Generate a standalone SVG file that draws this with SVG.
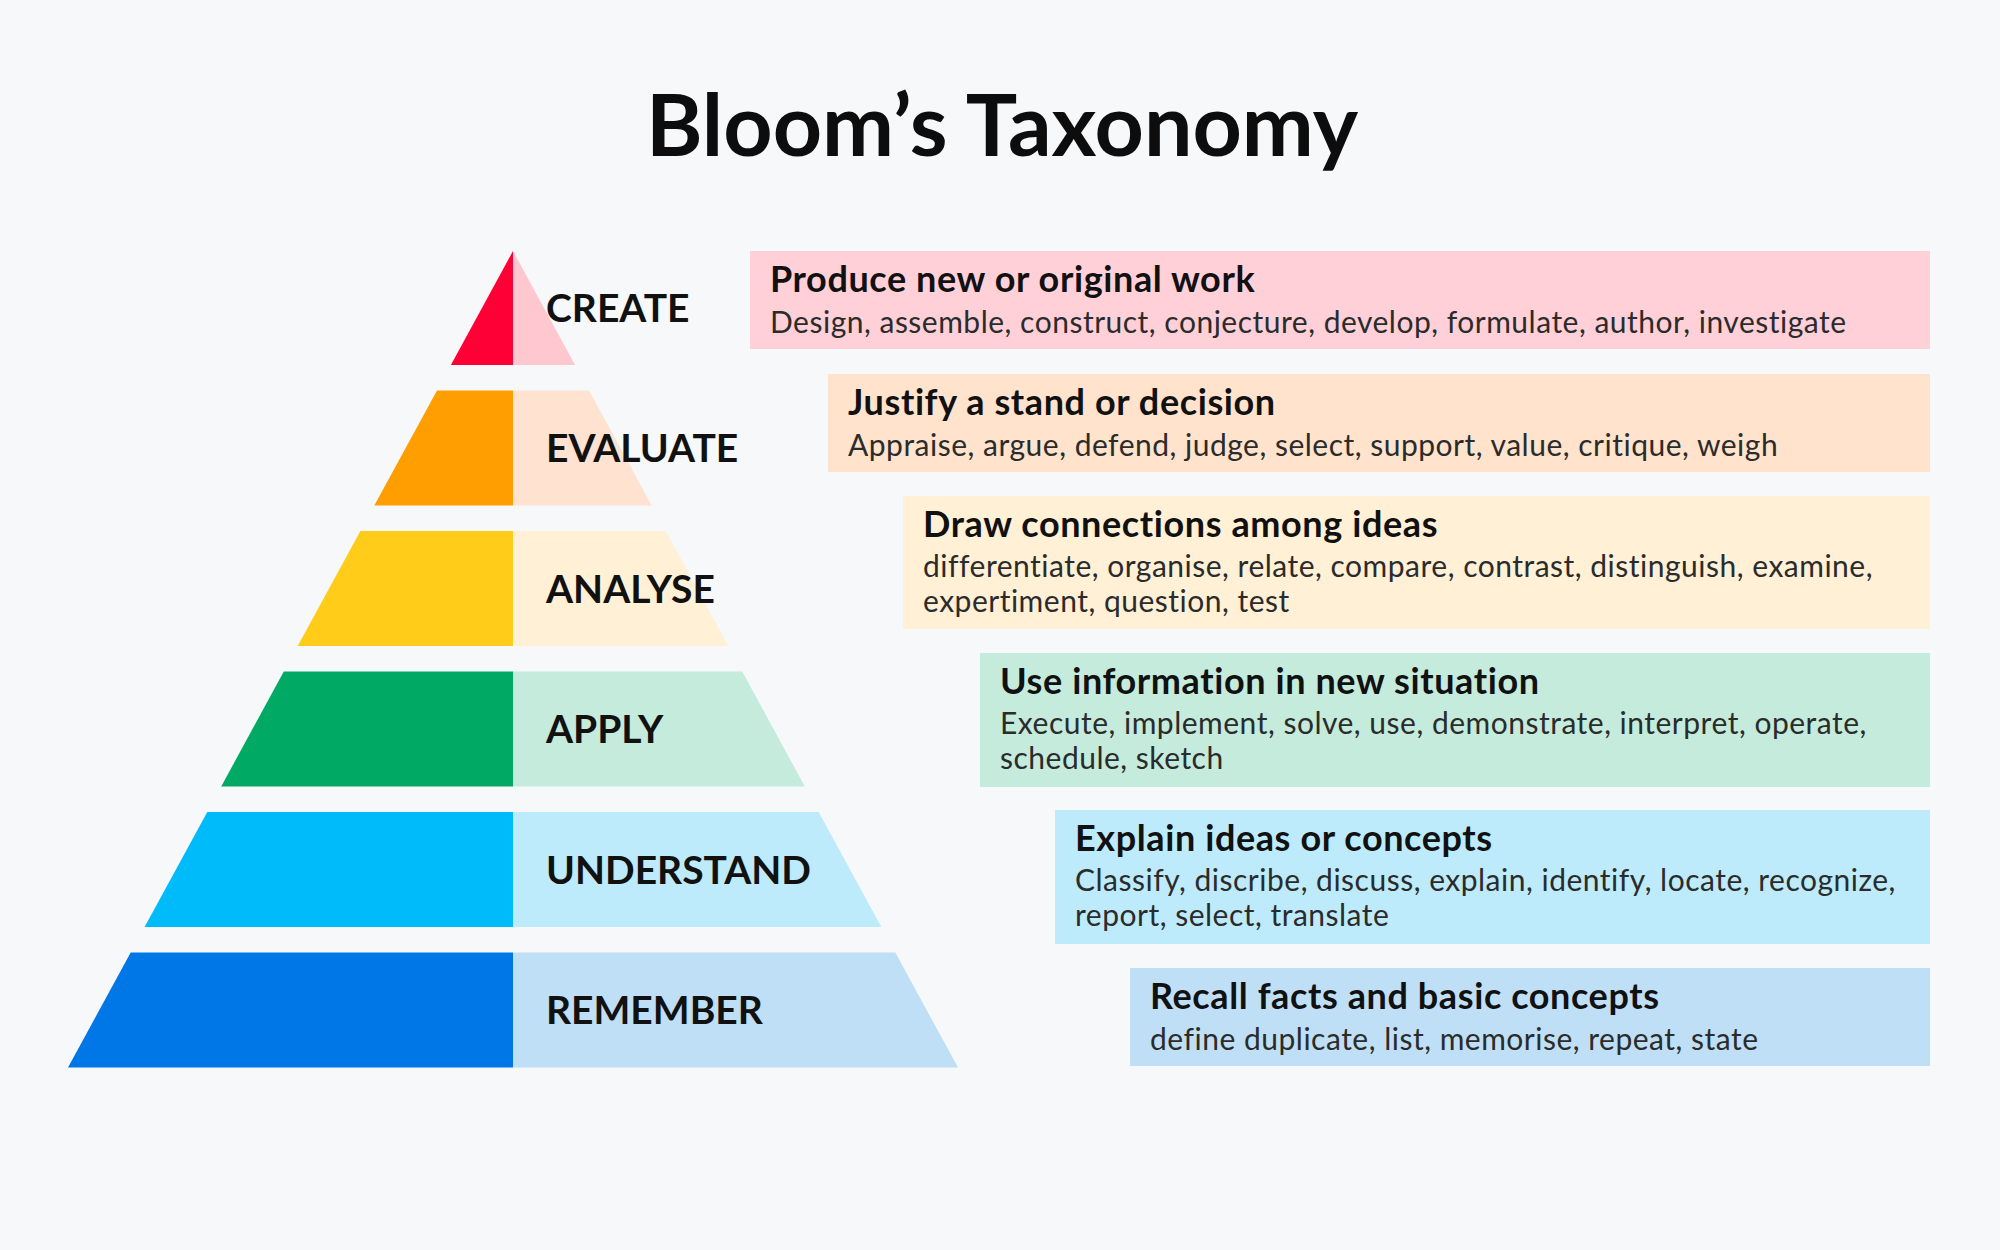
<svg xmlns="http://www.w3.org/2000/svg" width="2000" height="1250" viewBox="0 0 2000 1250">
  <style>
    .title { font-family: Lato, "Open Sans", "Liberation Sans", sans-serif; font-weight: 700; font-size: 86px; fill: #0d0d0d; }
    .lvl { font-family: Lato, "Liberation Sans", sans-serif; font-weight: 700; font-size: 39px; fill: #111111; }
    .bh { font-family: Lato, "Liberation Sans", sans-serif; font-weight: 700; font-size: 36px; letter-spacing: 0.6px; fill: #111111; }
    .bt { font-family: Lato, "Liberation Sans", sans-serif; font-weight: 400; font-size: 30px; letter-spacing: 0.5px; fill: #2b2b2b; }
  </style>
  <rect x="0" y="0" width="2000" height="1250" fill="#F7F8FA"/>
  <text id="title" class="title" x="1002" y="156" text-anchor="middle">Bloom’s Taxonomy</text>

  <g id="create">
    <polygon points="513,251 513,365 450.9,365" fill="#FF0036"/>
    <polygon points="513,251 575.1,365 513,365" fill="#FFC8D0"/>
    <text class="lvl" x="546" y="322">CREATE</text>
  </g>
  <g id="evaluate">
    <polygon points="437,390.5 513,390.5 513,505.5 374.3,505.5" fill="#FF9E00"/>
    <polygon points="513,390.5 589,390.5 651.7,505.5 513,505.5" fill="#FFE2CF"/>
    <text class="lvl" x="546" y="462">EVALUATE</text>
  </g>
  <g id="analyse">
    <polygon points="360.4,531 513,531 513,646 297.7,646" fill="#FFCC1A"/>
    <polygon points="513,531 665.6,531 728.3,646 513,646" fill="#FFF0D6"/>
    <text class="lvl" x="546" y="602.5">ANALYSE</text>
  </g>
  <g id="apply">
    <polygon points="283.8,671.5 513,671.5 513,786.5 221.2,786.5" fill="#00AA64"/>
    <polygon points="513,671.5 742.2,671.5 804.8,786.5 513,786.5" fill="#C4EBDC"/>
    <text class="lvl" x="546" y="743">APPLY</text>
  </g>
  <g id="understand">
    <polygon points="207.3,812 513,812 513,927 144.6,927" fill="#00BBF9"/>
    <polygon points="513,812 818.7,812 881.4,927 513,927" fill="#BDEBFB"/>
    <text class="lvl" x="546" y="883.5">UNDERSTAND</text>
  </g>
  <g id="remember">
    <polygon points="130.7,952.5 513,952.5 513,1067.5 68,1067.5" fill="#0077E6"/>
    <polygon points="513,952.5 895.3,952.5 958,1067.5 513,1067.5" fill="#BFDFF6"/>
    <text class="lvl" x="546" y="1024">REMEMBER</text>
  </g>

  <g id="box-create">
    <rect x="750" y="251" width="1180" height="98" fill="#FFD0D7"/>
    <text class="bh" x="770" y="292">Produce new or original work</text>
    <text class="bt" x="770" y="333">Design, assemble, construct, conjecture, develop, formulate, author, investigate</text>
  </g>
  <g id="box-evaluate">
    <rect x="828" y="374" width="1102" height="98" fill="#FFE3CD"/>
    <text class="bh" x="848" y="415">Justify a stand or decision</text>
    <text class="bt" x="848" y="456">Appraise, argue, defend, judge, select, support, value, critique, weigh</text>
  </g>
  <g id="box-analyse">
    <rect x="903" y="496" width="1027" height="133" fill="#FFF0D6"/>
    <text class="bh" x="923" y="537">Draw connections among ideas</text>
    <text class="bt" x="923" y="577">differentiate, organise, relate, compare, contrast, distinguish, examine,</text>
    <text class="bt" x="923" y="612">expertiment, question, test</text>
  </g>
  <g id="box-apply">
    <rect x="980" y="653" width="950" height="134" fill="#C4EBDC"/>
    <text class="bh" x="1000" y="694">Use information in new situation</text>
    <text class="bt" x="1000" y="734">Execute, implement, solve, use, demonstrate, interpret, operate,</text>
    <text class="bt" x="1000" y="769">schedule, sketch</text>
  </g>
  <g id="box-understand">
    <rect x="1055" y="810" width="875" height="134" fill="#BDEBFB"/>
    <text class="bh" x="1075" y="851">Explain ideas or concepts</text>
    <text class="bt" x="1075" y="891">Classify, discribe, discuss, explain, identify, locate, recognize,</text>
    <text class="bt" x="1075" y="926">report, select, translate</text>
  </g>
  <g id="box-remember">
    <rect x="1130" y="968" width="800" height="98" fill="#BFDFF6"/>
    <text class="bh" x="1150" y="1009">Recall facts and basic concepts</text>
    <text class="bt" x="1150" y="1050">define duplicate, list, memorise, repeat, state</text>
  </g>
  <g id="connectors"/>
</svg>
